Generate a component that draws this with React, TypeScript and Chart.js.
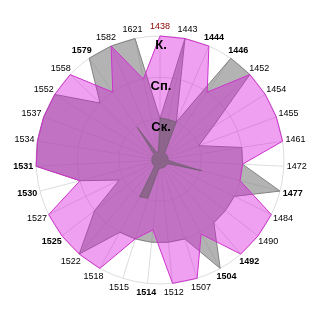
import React, { useEffect, useRef } from 'react';
import { Chart, registerables } from 'chart.js';

Chart.register(...registerables);

const categories = ['1438', '1443', '1444', '1446', '1452', '1454', '1455', '1461', '1472', '1477', '1484', '1490', '1492', '1504', '1507', '1512', '1514', '1515', '1518', '1522', '1525', '1527', '1530', '1531', '1534', '1537', '1552', '1558', '1579', '1582', '1621'];
const boldCategories = ['1444', '1446', '1477', '1492', '1504', '1514', '1525', '1530', '1531', '1579'];
const redCategories = ['1438'];

const grayValues = [1, 3, 1, 3, 3, 1.5, 1, 2, 2, 3, 2, 2, 2, 3, 2, 2, 2, 2, 2, 3, 2, 1.1, 2, 3, 3, 3, 3, 2, 3, 3, 3];
const pinkValues = [3, 3, 3, 2, 3, 3, 3, 3, 2, 2, 3, 3, 3, 2.05, 3, 3, 1.7, 2, 3, 3, 3, 3, 2, 3, 3, 3, 3, 3, 2, 3, 2];
const darkValues = [1.02, 1, 1, 0.2, 0.2, 0.2, 0.2, 0.2, 0.2, 1.05, 0.2, 0.2, 0.2, 0.2, 0.2, 0.2, 0.2, 0.97, 1.02, 0.2, 0.2, 0.2, 0.2, 0.2, 0.2, 0.2, 0.2, 0.2, 0.97, 0.2, 0.2];

const tickValues = [1, 2, 3];
const tickNames = ['Ск.', 'Сп.', 'К.'];

const labelPlugin = {
  id: 'customLabels',
  afterDatasetsDraw(chart: any) {
    const scale = chart.scales.r;
    const ctx = chart.ctx as CanvasRenderingContext2D;
    ctx.save();
    ctx.textAlign = 'center';
    ctx.textBaseline = 'middle';
    ctx.font = 'bold 13px "Liberation Sans", Arial, sans-serif';
    ctx.fillStyle = '#000000';
    tickValues.forEach((v, i) => {
      const d = scale.getDistanceFromCenterForValue(v);
      ctx.fillText(tickNames[i], scale.xCenter + 1, scale.yCenter - d + 9);
    });
    categories.forEach((label, i) => {
      const bold = boldCategories.includes(label);
      ctx.font = `${bold ? 'bold ' : ''}9px "Liberation Sans", Arial, sans-serif`;
      ctx.fillStyle = redCategories.includes(label) ? '#8b0000' : '#000000';
      const w = ctx.measureText(label).width;
      const angle = scale.getIndexAngle(i);
      const p = scale.getPointPosition(i, scale.drawingArea + 3);
      const x = p.x + (Math.sin(angle) * w) / 2;
      const y = p.y - Math.cos(angle) * 6.5;
      ctx.fillText(label, x, y);
    });
    ctx.restore();
  },
};

export default function App() {
  const ref = useRef<HTMLCanvasElement>(null);
  useEffect(() => {
    const chart = new Chart(ref.current as HTMLCanvasElement, {
      type: 'radar',
      data: {
        labels: categories,
        datasets: [
          {
            data: darkValues,
            backgroundColor: 'rgba(90,90,90,0.5)',
            borderColor: 'rgba(90,90,90,0.5)',
            borderWidth: 1,
            pointRadius: 0,
            fill: true,
          },
          {
            data: pinkValues,
            backgroundColor: 'rgba(217,17,217,0.4)',
            borderColor: 'rgb(204,51,204)',
            borderWidth: 1,
            pointRadius: 0,
            fill: true,
          },
          {
            data: grayValues,
            backgroundColor: 'rgba(128,128,128,0.6)',
            borderColor: 'rgb(130,130,130)',
            borderWidth: 1,
            pointRadius: 0,
            fill: true,
          },
        ],
      },
      options: {
        animation: false,
        responsive: false,
        layout: { padding: 36 },
        plugins: { legend: { display: false }, tooltip: { enabled: false } },
        elements: { line: { tension: 0 } },
        scales: {
          r: {
            min: 0,
            max: 3,
            beginAtZero: true,
            grid: { circular: true, color: '#dddddd' },
            angleLines: { color: '#dddddd' },
            ticks: { stepSize: 1, display: false },
            pointLabels: { display: false },
          },
        },
      },
      plugins: [labelPlugin],
    } as any);
    return () => chart.destroy();
  }, []);
  return (
    <div style={{ position: 'absolute', left: 0, top: 0, width: 320, height: 320 }}>
      <canvas ref={ref} width={320} height={320} />
    </div>
  );
}
